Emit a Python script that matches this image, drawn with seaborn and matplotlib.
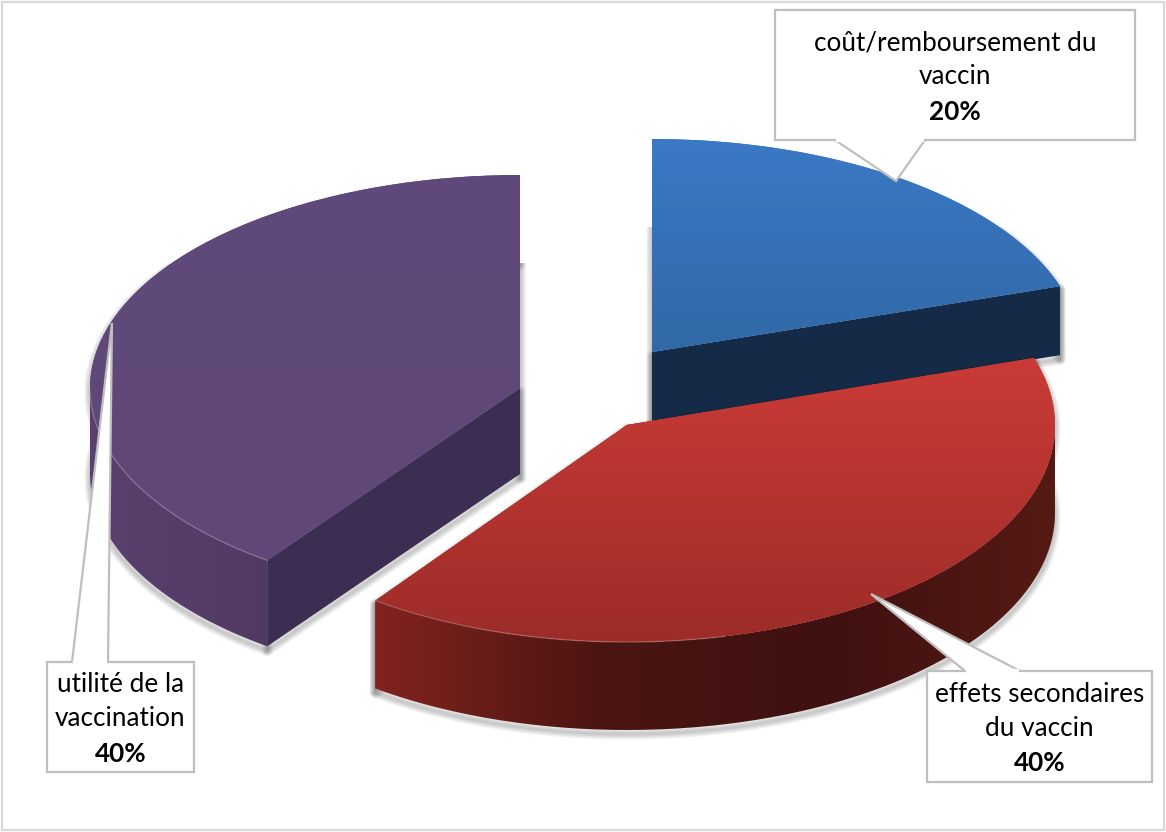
import numpy as np
import seaborn as sns
import matplotlib.pyplot as plt
from matplotlib.patches import Polygon, PathPatch, Rectangle
from matplotlib.path import Path
from matplotlib.transforms import Affine2D

labels = ["coût/remboursement du\nvaccin", "effets secondaires\ndu vaccin", "utilité de la\nvaccination"]
values = [20, 40, 40]

# positions en pixels de l'image d'origine
centers = [(652, 352), (627, 425), (520, 388)]
radii = [(429, 213), (428, 217), (430, 213)]
depths = [69, 88, 86]

top_colors = [["#3b79c6", "#3169a6"], ["#cb3b37", "#9c2c28"], ["#604a7b", "#5f4877"]]
wall_colors = [["#142a46", "#142a46"], ["#82231f", "#4b1512", "#3f1110", "#551a14"], ["#5a4170", "#503a62"]]
cut_colors = ["#142a46", "#4b1512", "#3c2d52"]

boxes = [(775, 10, 360, 130), (927, 671, 225, 111), (47, 662, 147, 110)]
leaders = [[(835, 140), (896, 181), (925, 140)], [(965, 671), (871, 594), (1020, 671)], [(72, 662), (112, 323), (108, 662)]]

sns.set_theme(style="white")
plt.rcParams["font.family"] = ["Lato", "DejaVu Sans"]

fig = plt.figure(figsize=(11.66, 8.32), dpi=100)
ax = fig.add_axes([0, 0, 1, 1])

wedges, _ = ax.pie(values, startangle=90, counterclock=False, radius=1, center=(0, 0))
ax.set_aspect("auto")


def gradient(path, colors, extent, vertical, zorder):
    # dégradé clippé sur la forme
    cmap = sns.blend_palette(colors, as_cmap=True)
    g = np.linspace(0, 1, 256)
    g = g.reshape(-1, 1) if vertical else g.reshape(1, -1)
    im = ax.imshow(g, cmap=cmap, extent=extent, origin="upper", aspect="auto", zorder=zorder, vmin=0, vmax=1)
    patch = PathPatch(path, transform=ax.transData, facecolor="none", edgecolor="none")
    ax.add_patch(patch)
    im.set_clip_path(patch)


z = 1
for i in range(len(values)):
    w = wedges[i]
    cx, cy = centers[i]
    a, b = radii[i]
    d = depths[i]
    t = np.radians(np.linspace(w.theta1, w.theta2, 200))
    ax_x = cx + a * np.cos(t)
    ax_y = cy - b * np.sin(t)

    # les deux faces de coupe
    cuts = []
    for end in [0, -1]:
        ex, ey = ax_x[end], ax_y[end]
        cuts.append(np.array([(cx, cy), (ex, ey), (ex, ey + d), (cx, cy + d)]))

    # ombre, seulement sur le bas de la part
    clip = Rectangle((0, cy - 125), 1166, 832, transform=ax.transData)
    full = np.vstack([np.column_stack([ax_x, ax_y]), np.column_stack([ax_x, ax_y + d])[::-1]])
    for shape in [full] + cuts:
        for lw in [8, 6, 4, 2]:
            p = Polygon(shape + [0, 4], closed=True, facecolor="none", edgecolor="#000000", lw=lw, alpha=0.055, zorder=z, joinstyle="round")
            ax.add_patch(p)
            p.set_clip_path(clip)
    z += 1

    # faces de coupe, le reste les cache quand on ne les voit pas
    for shape in cuts:
        ax.add_patch(Polygon(shape, closed=True, facecolor=cut_colors[i], edgecolor="none", zorder=z))
    z += 1

    # paroi extérieure, partie tournée vers l'avant
    front = np.sin(t) <= 0
    if front.any():
        fx, fy = ax_x[front], ax_y[front]
        wall = np.vstack([np.column_stack([fx, fy]), np.column_stack([fx, fy + d])[::-1]])
        gradient(Path(np.vstack([wall, wall[:1]])), wall_colors[i], (fx.min(), fx.max(), fy.max() + d, fy.min()), False, z)
    z += 1

    # dessus de la part, à partir du secteur du camembert
    w.set_transform(Affine2D().scale(a, -b).translate(cx, cy) + ax.transData)
    w.set_facecolor(top_colors[i][0])
    w.set_edgecolor("none")
    w.set_zorder(z)
    z += 1
    top = np.vstack([np.column_stack([ax_x, ax_y]), [[cx, cy]], [[ax_x[0], ax_y[0]]]])
    ys = [min(ax_y.min(), cy), max(ax_y.max(), cy)]
    gradient(Path(top), top_colors[i], (ax_x.min(), ax_x.max(), ys[1], ys[0]), True, z)
    z += 1

    # liseré clair du bord avant
    keep = front & (ax_x < cx + 100)
    if keep.any():
        ax.plot(ax_x[keep], ax_y[keep], color=sns.blend_palette(top_colors[i] + ["#ffffff"], 5)[3], lw=1, alpha=0.4, zorder=z)
        z += 1

# bulles de légende
for i in range(len(values)):
    x, y, bw, bh = boxes[i]
    ax.add_patch(Rectangle((x, y), bw, bh, facecolor="white", edgecolor="#bfbfbf", lw=1.6, zorder=50))
    ax.add_patch(Polygon(leaders[i], closed=False, facecolor="white", edgecolor="#bfbfbf", lw=1.6, zorder=51, joinstyle="miter"))
    (x0, y0), (x1, y1) = leaders[i][0], leaders[i][2]
    ax.plot([x0 + 1, x1 - 1], [y0, y1], color="white", lw=3, zorder=52, solid_capstyle="butt")
    mid = x + bw / 2
    lines = labels[i].split("\n")
    step = 34.5
    y_text = y + bh / 2 - step + 2
    for j, line in enumerate(lines):
        ax.text(mid, y_text + j * step, line, ha="center", va="center", fontsize=18.8, color="#000000", zorder=53)
    ax.text(mid, y_text + 2 * step, f"{values[i]}%", ha="center", va="center", fontsize=18.8, fontweight="bold", color="#000000", zorder=53)

# cadre du graphique
ax.add_patch(Rectangle((1.5, 1.5), 1162.5, 828, facecolor="none", edgecolor="#d9d9d9", lw=1.6, zorder=60))

ax.set_xlim(0, 1166)
ax.set_ylim(832, 0)
ax.axis("off")

fig.savefig("out.png", dpi=100, facecolor="white")
